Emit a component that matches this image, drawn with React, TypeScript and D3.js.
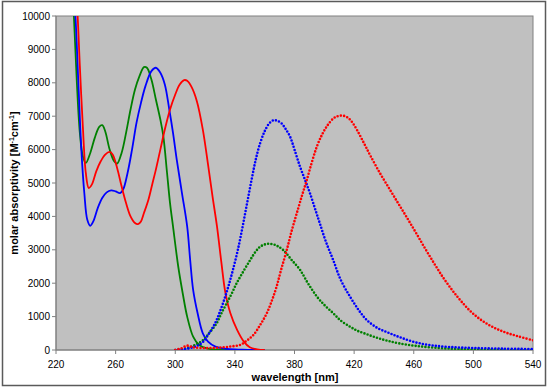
import React from "react";
import * as d3 from "d3";

// ---- data (wavelength nm, molar absorptivity) ----
const greenAbsX = [230, 232, 234, 236, 238, 240, 243, 246, 249, 251, 253, 256, 259, 261, 264, 267, 270, 273, 276, 279, 281, 284, 287, 290, 292, 294.5, 296.5, 298.5, 302, 305, 308, 312, 316, 322, 335, 350];
const greenAbsY = [11500, 10000, 8000, 6500, 5800, 5600, 5900, 6350, 6680, 6730, 6550, 6000, 5650, 5580, 5900, 6500, 7200, 7800, 8200, 8470, 8450, 8100, 7500, 6900, 6400, 5300, 4400, 3700, 2500, 1700, 1000, 400, 150, 40, 5, 0];

const blueAbsX = [232, 233, 235, 237, 239, 241, 243, 245, 248, 251, 254, 257, 260, 263, 265, 268, 271, 274, 277, 280, 284, 287, 290, 293, 296, 298.5, 301, 304.5, 308, 310, 312, 315, 318.5, 322, 327, 335, 345, 360];
const blueAbsY = [10500, 10000, 8000, 6000, 4700, 3900, 3720, 3850, 4250, 4550, 4720, 4780, 4750, 4700, 4800, 5300, 6000, 6800, 7400, 7900, 8350, 8450, 8300, 7950, 7200, 6500, 5700, 4700, 3700, 2700, 1800, 1100, 500, 250, 100, 30, 10, 0];

const redAbsX = [233, 234.5, 236, 238, 240, 242, 244, 247, 250, 253, 256, 258, 261, 264, 267, 270, 273, 275, 277, 279, 282, 284.5, 287, 290, 293, 296.5, 300, 303, 306, 308, 311, 314.5, 318.5, 322, 325, 328, 331, 333.5, 337, 341.5, 346, 350, 355, 360];
const redAbsY = [11000, 10000, 8500, 6700, 5300, 4850, 4950, 5350, 5650, 5850, 5930, 5850, 5450, 4900, 4400, 4000, 3800, 3770, 3850, 4100, 4500, 4950, 5400, 6000, 6600, 7200, 7650, 7950, 8080, 8060, 7870, 7450, 6600, 5550, 4600, 3700, 2600, 1750, 1100, 600, 250, 80, 20, 0];

const blueEmX = [300, 305, 310, 315, 318.6, 322, 326.7, 330, 333.4, 336, 338.7, 342, 345, 348, 351, 354, 357, 360, 363, 366, 368, 371, 374, 377, 380, 383.7, 387, 390.4, 394, 397, 401, 405.9, 411, 417.2, 423, 428.4, 436, 444, 452, 462, 472, 484, 500, 520, 540];
const blueEmY = [0, 20, 60, 130, 240, 450, 800, 1150, 1580, 1960, 2400, 3000, 3650, 4350, 5050, 5700, 6200, 6550, 6780, 6880, 6870, 6800, 6620, 6390, 6000, 5490, 5100, 4690, 4200, 3790, 3250, 2700, 2100, 1600, 1200, 900, 650, 500, 360, 220, 140, 90, 60, 40, 30];

const redEmX = [300, 304, 308, 312, 318, 325, 332, 338, 343.4, 348, 352.4, 357, 361.4, 365, 368, 371, 374.8, 378, 381.5, 385, 388.2, 391.5, 395, 398.5, 401.6, 406, 409, 412.7, 416, 419, 422, 425, 428, 431, 437, 444, 450, 456, 462, 468, 474, 480, 486, 492, 500, 510, 520, 530, 540];
const redEmY = [0, 50, 130, 80, 60, 60, 80, 110, 150, 280, 450, 750, 1100, 1500, 1900, 2400, 2990, 3550, 4090, 4620, 5080, 5600, 6090, 6450, 6690, 6930, 7000, 7015, 6950, 6800, 6580, 6330, 6070, 5810, 5320, 4800, 4360, 3920, 3470, 3010, 2570, 2150, 1780, 1450, 1080, 760, 550, 410, 290];

const greenEmX = [300, 305, 310, 314, 318.8, 323, 327.8, 331, 334.5, 338, 341.2, 345, 350.2, 354, 356.9, 360, 362.4, 366, 369, 372.5, 378, 383.7, 389, 395, 400, 406, 411, 417.2, 422, 428, 435, 442, 450, 462, 477, 490, 505, 520, 540];
const greenEmY = [0, 30, 80, 170, 300, 520, 800, 1100, 1400, 1700, 2000, 2300, 2690, 2950, 3090, 3160, 3180, 3160, 3100, 2990, 2700, 2400, 2000, 1600, 1350, 1100, 880, 700, 580, 480, 370, 280, 200, 120, 60, 30, 10, 3, 0];

const xTicks = [220, 260, 300, 340, 380, 420, 460, 500, 540];
const yTicks = [0, 1000, 2000, 3000, 4000, 5000, 6000, 7000, 8000, 9000, 10000];

const W = 550, H = 389;
const PL = 56, PR = 533, PT = 16, PB = 350;

export default function App() {
  const x = d3.scaleLinear().domain([220, 540]).range([PL, PR]);
  const y = d3.scaleLinear().domain([0, 10000]).range([PB, PT]);
  const mk = (xs: number[], ys: number[]) =>
    d3.line<number>().x((_, i) => x(xs[i])).y((_, i) => y(ys[i])).curve(d3.curveCatmullRom.alpha(0.5))(xs as any) || "";

  const abs = [
    { xs: greenAbsX, ys: greenAbsY, c: "#008000" },
    { xs: blueAbsX, ys: blueAbsY, c: "#0000FF" },
    { xs: redAbsX, ys: redAbsY, c: "#FF0000" },
  ];
  const em = [
    { xs: greenEmX, ys: greenEmY, c: "#008000" },
    { xs: blueEmX, ys: blueEmY, c: "#0000FF" },
    { xs: redEmX, ys: redEmY, c: "#FF0000" },
  ];
  const font = "'Liberation Sans', Arial, sans-serif";
  return (
    <svg width={W} height={H} style={{ position: "absolute", left: 0, top: 0, background: "#fff" }} fontFamily={font}>
      <defs>
        <clipPath id="plot">
          <rect x={PL} y={PT} width={PR - PL} height={PB - PT} />
        </clipPath>
      </defs>
      <rect x={2.5} y={1.5} width={543} height={384} fill="#fff" stroke="#5a5a5a" strokeWidth={1.5} />
      <rect x={PL} y={PT} width={PR - PL} height={PB - PT} fill="#C0C0C0" stroke="#808080" strokeWidth={1} />
      {/* axes */}
      <line x1={PL} x2={PL} y1={PT} y2={PB} stroke="#808080" />
      <line x1={PL} x2={PR} y1={PB} y2={PB} stroke="#808080" />
      {yTicks.map((t) => (
        <g key={"y" + t}>
          <line x1={PL - 4} x2={PL} y1={y(t)} y2={y(t)} stroke="#808080" />
          <text x={PL - 6} y={y(t)} dy="0.35em" textAnchor="end" fontSize={10} fill="#000">{t}</text>
        </g>
      ))}
      {xTicks.map((t) => (
        <g key={"x" + t}>
          <line x1={x(t)} x2={x(t)} y1={PB} y2={PB + 4} stroke="#808080" />
          <text x={x(t)} y={PB + 18} textAnchor="middle" fontSize={10} fill="#000">{t}</text>
        </g>
      ))}
      <g clipPath="url(#plot)" fill="none">
        {abs.map((s, i) => (
          <path key={"a" + i} d={mk(s.xs, s.ys)} stroke={s.c} strokeWidth={1.8} />
        ))}
        {em.map((s, i) => (
          <path key={"e" + i} d={mk(s.xs, s.ys)} stroke={s.c} strokeWidth={2.6} strokeLinecap="round" strokeDasharray="0 3.3" />
        ))}
      </g>
      <text x={295} y={381} textAnchor="middle" fontSize={11} fontWeight="bold" fill="#000">wavelength [nm]</text>
      <text transform={`translate(18,183) rotate(-90)`} textAnchor="middle" fontSize={11} fontWeight="bold" fill="#000">
        molar absorptivity [M<tspan dy={-4} fontSize={7}>-1</tspan><tspan dy={4}>cm</tspan><tspan dy={-4} fontSize={7}>-1</tspan><tspan dy={4}>]</tspan>
      </text>
    </svg>
  );
}
